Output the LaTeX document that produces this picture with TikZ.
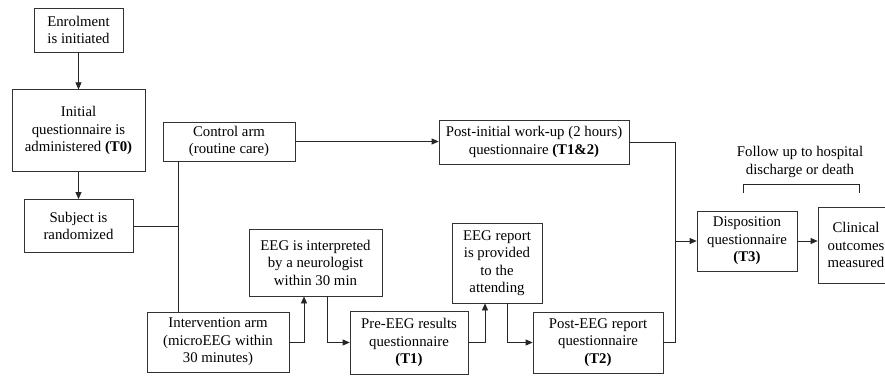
\documentclass[tikz,border=0pt]{standalone}
\usepackage{fontspec}
\setmainfont{Liberation Serif}
\newfontfamily\timesfont{Liberation Serif}
\usetikzlibrary{positioning,arrows.meta}

\begin{document}
\begin{tikzpicture}[
            x=1pt,y=-1pt,
            every node/.append style={font=\timesfont\fontsize{14.8}{17.5}\selectfont},
            box/.style={draw=black!80,line width=0.7pt,align=center,inner sep=0pt},
            link/.style={draw=black!85,line width=0.7pt},
            arr/.style={link,-{Triangle[length=7pt,width=6pt]}}
        ]
            \useasboundingbox (0,0) rectangle (885,376);
            \clip (0,0) rectangle (885,376);
            % left column
            \node (enrol) [box,minimum width=89pt,minimum height=44pt] at (78.5,30) {Enrolment\\is initiated};
            \node (init)  [box,minimum width=133pt,minimum height=82pt,below=37pt of enrol] {Initial\\questionnaire is\\administered \textbf{(T0)}};
            \node (rand)  [box,minimum width=109pt,minimum height=53pt,below=27pt of init] {Subject is\\randomized};
            % the two arms
            \node (ctrl)   [box,minimum width=132pt,minimum height=39pt] at (229,141.5) {Control arm\\(routine care)};
            \node (interv) [box,minimum width=142pt,minimum height=60pt] at (218,342) {Intervention arm\\(microEEG within\\30 minutes)};
            \node (eegint) [box,minimum width=133pt,minimum height=67pt] at (315.5,262.5) {EEG is interpreted\\by a neurologist\\within 30 min};
            \node (pre)    [box,minimum width=118pt,minimum height=63pt] at (409,342.5) {Pre-EEG results\\questionnaire\\\textbf{(T1)}};
            \node (eegrep) [box,minimum width=90pt,minimum height=80pt] at (497,263) {EEG report\\is provided\\to the\\attending};
            \node (post)   [box,minimum width=130pt,minimum height=61pt] at (598,342.5) {Post-EEG report\\questionnaire\\\textbf{(T2)}};
            \node (postinit) [box,minimum width=190pt,minimum height=44pt] at (534,142) {Post-initial work-up (2 hours)\\questionnaire \textbf{(T1\&2)}};
            % end of study
            \node (disp)   [box,minimum width=100pt,minimum height=60pt] at (747,241) {Disposition\\questionnaire\\\textbf{(T3)}};
            \node (clin)   [box,minimum width=76pt,minimum height=76pt] at (856,245) {Clinical\\outcomes\\measured};
            \node (follow) [align=center] at (800,162) {Follow up to hospital\\discharge or death};
            \coordinate (trunk) at (178,229);
            \coordinate (merge) at (675,241);
            \draw[arr] (enrol) -- (init);
            \draw[arr] (init) -- (init.south |- rand.north);
            \draw[link] (rand.east) -- (rand.east -| trunk);
            \draw[link] (ctrl.south -| trunk) -- (interv.north -| trunk);
            \draw[arr] (interv.east) -| ([xshift=-11.5pt]eegint.south);
            \draw[arr] ([xshift=11.5pt]eegint.south) |- (pre.west);
            \draw[arr] (pre.east) -| ([xshift=-12pt]eegrep.south);
            \draw[arr] ([xshift=10pt]eegrep.south) |- (post.west);
            \draw[arr] (ctrl.east) -- (ctrl.east -| postinit.west);
            \draw[link] (postinit.east) -| (merge) |- (post.east);
            \draw[arr] (merge) -- (disp.west);
            \draw[arr] (disp.east) -- (disp.east -| clin.west);
            \draw[link] (743,193) -- (743,184) -- (859,184) -- (859,193);
        \end{tikzpicture}
\end{document}
